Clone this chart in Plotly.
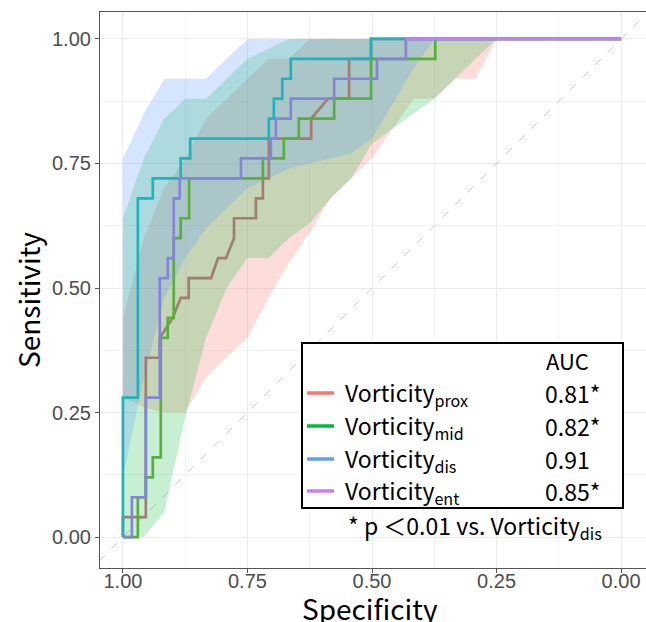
import plotly.graph_objects as go

# ---------------- data ----------------
# ROC step curves (specificity, sensitivity)
prox_spec = [1.0, 1.0, 0.954, 0.954, 0.926, 0.926, 0.900, 0.884, 0.868, 0.868, 0.823, 0.809, 0.793, 0.777, 0.777,
             0.733, 0.733, 0.719, 0.719, 0.707, 0.707, 0.622, 0.622, 0.588, 0.546, 0.546, 0.502, 0.502, 0.0]
prox_sens = [0.0, 0.04, 0.04, 0.36, 0.36, 0.40, 0.44, 0.48, 0.48, 0.52, 0.52, 0.56, 0.56, 0.60, 0.64,
             0.64, 0.68, 0.68, 0.72, 0.72, 0.80, 0.80, 0.84, 0.88, 0.88, 0.96, 0.96, 1.0, 1.0]

mid_spec = [1.0, 0.970, 0.970, 0.954, 0.954, 0.940, 0.940, 0.924, 0.924, 0.910, 0.910, 0.898, 0.898, 0.884, 0.884,
            0.867, 0.867, 0.719, 0.719, 0.677, 0.677, 0.647, 0.647, 0.576, 0.576, 0.502, 0.502, 0.373, 0.373, 0.0]
mid_sens = [0.0, 0.0, 0.08, 0.08, 0.12, 0.12, 0.16, 0.16, 0.40, 0.40, 0.44, 0.44, 0.60, 0.60, 0.64,
            0.64, 0.72, 0.72, 0.76, 0.76, 0.80, 0.80, 0.84, 0.84, 0.88, 0.88, 0.96, 0.96, 1.0, 1.0]

dis_spec = [1.0, 1.0, 0.970, 0.970, 0.940, 0.940, 0.884, 0.884, 0.865, 0.865, 0.707, 0.707, 0.697, 0.697,
            0.680, 0.680, 0.663, 0.663, 0.502, 0.502, 0.0]
dis_sens = [0.0, 0.28, 0.28, 0.68, 0.68, 0.72, 0.72, 0.76, 0.76, 0.80, 0.80, 0.84, 0.84, 0.88,
            0.88, 0.92, 0.92, 0.96, 0.96, 1.0, 1.0]

ent_spec = [1.0, 0.982, 0.982, 0.954, 0.954, 0.926, 0.926, 0.910, 0.910, 0.898, 0.898, 0.886, 0.886, 0.763,
            0.763, 0.703, 0.703, 0.693, 0.693, 0.663, 0.663, 0.576, 0.576, 0.490, 0.490, 0.432, 0.432, 0.0]
ent_sens = [0.0, 0.0, 0.08, 0.08, 0.28, 0.28, 0.52, 0.52, 0.56, 0.56, 0.68, 0.68, 0.72, 0.72,
            0.76, 0.76, 0.80, 0.80, 0.84, 0.84, 0.88, 0.88, 0.92, 0.92, 0.96, 0.96, 1.0, 1.0]

# confidence bands of sensitivity at fixed specificities
ci_spec = [1.0, 0.958, 0.917, 0.875, 0.833, 0.792, 0.75, 0.708, 0.667, 0.625, 0.583, 0.542, 0.5,
           0.458, 0.417, 0.375, 0.333, 0.292, 0.25, 0.208, 0.167, 0.125, 0.083, 0.042, 0.0]
prox_lo = [0.28, 0.26, 0.25, 0.25, 0.32, 0.36, 0.40, 0.48, 0.55, 0.61, 0.68, 0.72, 0.76,
           0.82, 0.88, 0.88, 0.92, 0.92, 1.0, 1.0, 1.0, 1.0, 1.0, 1.0, 1.0]
prox_hi = [0.44, 0.60, 0.70, 0.76, 0.84, 0.88, 0.92, 0.96, 0.96, 1.0, 1.0, 1.0, 1.0,
           1.0, 1.0, 1.0, 1.0, 1.0, 1.0, 1.0, 1.0, 1.0, 1.0, 1.0, 1.0]
mid_lo = [0.0, 0.0, 0.05, 0.24, 0.40, 0.50, 0.56, 0.56, 0.60, 0.63, 0.68, 0.72, 0.79,
          0.82, 0.85, 0.88, 0.92, 0.96, 1.0, 1.0, 1.0, 1.0, 1.0, 1.0, 1.0]
mid_hi = [0.64, 0.76, 0.84, 0.88, 0.88, 0.92, 0.96, 0.98, 1.0, 1.0, 1.0, 1.0, 1.0,
          1.0, 1.0, 1.0, 1.0, 1.0, 1.0, 1.0, 1.0, 1.0, 1.0, 1.0, 1.0]
dis_lo = [0.12, 0.32, 0.48, 0.56, 0.62, 0.66, 0.70, 0.72, 0.74, 0.75, 0.76, 0.77, 0.80,
          0.87, 0.94, 1.0, 1.0, 1.0, 1.0, 1.0, 1.0, 1.0, 1.0, 1.0, 1.0]
dis_hi = [0.76, 0.85, 0.92, 0.92, 0.92, 0.96, 1.0, 1.0, 1.0, 1.0, 1.0, 1.0, 1.0,
          1.0, 1.0, 1.0, 1.0, 1.0, 1.0, 1.0, 1.0, 1.0, 1.0, 1.0, 1.0]

tick_vals = [1.0, 0.75, 0.5, 0.25, 0.0]
tick_text = ["1.00", "0.75", "0.50", "0.25", "0.00"]

legend_names = ["prox", "mid", "dis", "ent"]
legend_auc = ["0.81*", "0.82*", "0.91", "0.85*"]

# ---------------- styling ----------------
W, H = 646, 622
PL, PR, PT, PB = 100, 646, 12, 568  # plot area in pixels
leg_colors = ["#F8766D", "#00BA38", "#619CFF", "#C77CFF"]
band_fill = ["rgba(248,118,109,0.25)", "rgba(0,186,56,0.22)", "rgba(97,156,255,0.26)"]
line_cols = ["#A07E72", "#5AAE3C", "#1DB3BF", "#8585D8"]
TXT_FONT = "Noto Sans CJK JP"
TICK_FONT = "Liberation Sans, Arial, sans-serif"


def px(x):
    return (x - PL) / (PR - PL)


def py(y):
    return (PB - y) / (PB - PT)


fig = go.Figure()

# diagonal reference
fig.add_trace(go.Scatter(x=[1.1, -0.1], y=[-0.1, 1.1], mode="lines",
                         line=dict(color="#CFCFCF", width=1, dash="dash"),
                         hoverinfo="skip", showlegend=False))

# confidence bands
for lo, hi, fc in [(prox_lo, prox_hi, band_fill[0]), (mid_lo, mid_hi, band_fill[1]), (dis_lo, dis_hi, band_fill[2])]:
    fig.add_trace(go.Scatter(x=ci_spec + ci_spec[::-1], y=hi + lo[::-1], mode="lines",
                             fill="toself", fillcolor=fc, line=dict(width=0),
                             hoverinfo="skip", showlegend=False))

# ROC curves
for xs, ys, c in [(prox_spec, prox_sens, line_cols[0]), (mid_spec, mid_sens, line_cols[1]),
                  (dis_spec, dis_sens, line_cols[2]), (ent_spec, ent_sens, line_cols[3])]:
    fig.add_trace(go.Scatter(x=xs, y=ys, mode="lines", line=dict(color=c, width=2.7),
                             showlegend=False))
fig.add_trace(go.Scatter(x=ent_spec[-2:], y=ent_sens[-2:], mode="lines",
                         line=dict(color="#C77CFF", width=2.7), showlegend=False))

axis_common = dict(
    tickvals=tick_vals, ticktext=tick_text,
    showgrid=True, gridcolor="#EBEBEB", gridwidth=1,
    minor=dict(tickvals=[0.875, 0.625, 0.375, 0.125], showgrid=True, gridcolor="#F3F3F3", gridwidth=1, ticks=""),
    zeroline=False, showline=True, linecolor="#555555", linewidth=1.2, mirror=True,
    ticks="outside", ticklen=4, tickcolor="#555555", tickwidth=1,
    tickfont=dict(family=TICK_FONT, size=20, color="#4D4D4D"),
)
fig.update_xaxes(range=[1.046, -0.05], ticklabelstandoff=-9, **axis_common)
fig.update_yaxes(range=[-0.062, 1.054], **axis_common)

shapes = [dict(type="rect", xref="paper", yref="paper", x0=px(302), x1=px(623), y0=py(508), y1=py(343),
               line=dict(color="black", width=2), fillcolor="white", layer="above")]
ann = [
    dict(x=px(370), y=py(608), text="Specificity", font=dict(family=TXT_FONT, size=28, color="black")),
    dict(x=px(28), y=py(300), text="Sensitivity", textangle=-90, font=dict(family=TXT_FONT, size=28, color="black")),
    dict(x=px(567), y=py(360), text="AUC", font=dict(family=TXT_FONT, size=22, color="black")),
    dict(x=px(346), y=py(526), text="* p ＜0.01 vs. Vorticity<sub>dis</sub>", xanchor="left",
         font=dict(family=TXT_FONT, size=23, color="black")),
]
rows_y = [393, 426, 459, 491]
for i, (nm, auc) in enumerate(zip(legend_names, legend_auc)):
    yy = rows_y[i]
    shapes.append(dict(type="line", xref="paper", yref="paper", x0=px(307), x1=px(334), y0=py(yy), y1=py(yy),
                       line=dict(color=leg_colors[i], width=3.5), layer="above"))
    ann.append(dict(x=px(343), y=py(yy), text="Vorticity<sub>%s</sub>" % nm, xanchor="left",
                    font=dict(family=TXT_FONT, size=23, color="black")))
    ann.append(dict(x=px(543), y=py(yy), text=auc, xanchor="left",
                    font=dict(family=TXT_FONT, size=23, color="black")))
for a in ann:
    a.update(xref="paper", yref="paper", showarrow=False)
    a.setdefault("xanchor", "center")
    a.setdefault("yanchor", "middle")

fig.update_layout(
    width=W, height=H,
    margin=dict(l=PL, r=W - PR, t=PT, b=H - PB),
    paper_bgcolor="white", plot_bgcolor="white",
    shapes=shapes, annotations=ann, showlegend=False,
)

fig.write_html("out.html", config={"displayModeBar": False},
               post_script="document.body.style.margin='0';document.body.style.overflow='hidden';")
